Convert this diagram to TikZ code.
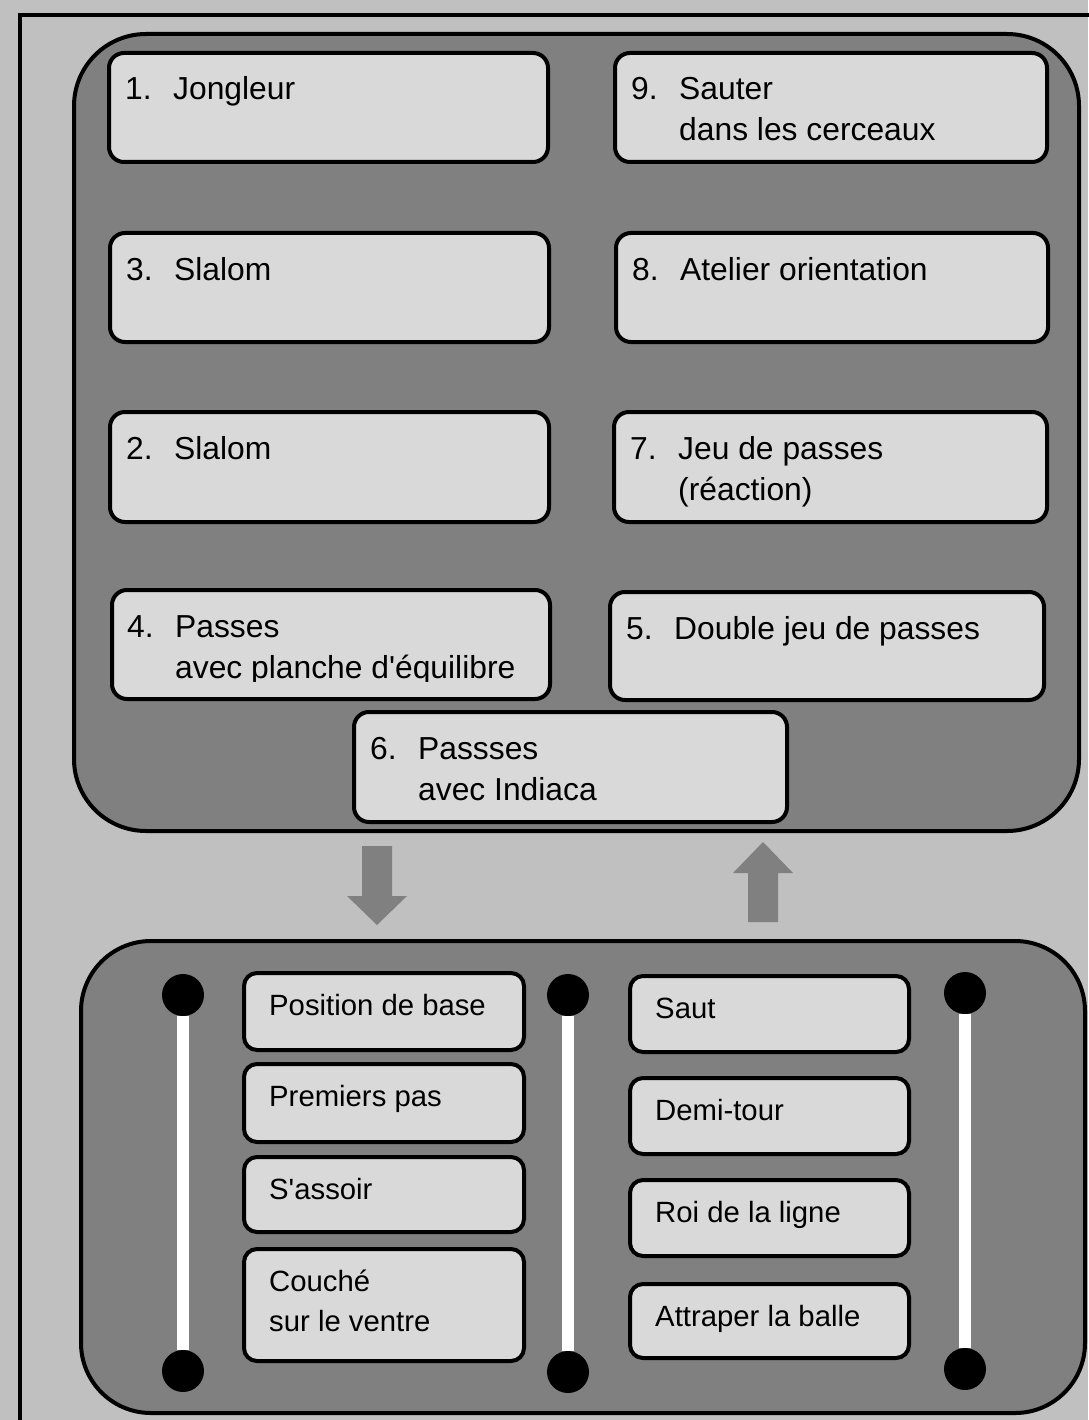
\documentclass[tikz,border=0pt]{standalone}
\usepackage{fontspec}
\setmainfont{Liberation Sans}
\usetikzlibrary{positioning}

\definecolor{paper}{HTML}{C0C0C0}
\definecolor{panelgray}{HTML}{808080}
\definecolor{cardgray}{HTML}{D9D9D9}

\newcommand{\cardtext}[3]{\begin{tabular}[t]{@{}p{48pt}@{}l@{}}#1 & #2\\ & #3\end{tabular}}
\newcommand{\movetext}[2]{\begin{tabular}[t]{@{}l@{}}#1\\#2\end{tabular}}

\begin{document}
\begin{tikzpicture}[
        x=1pt, y=-1pt,
        panel/.style={draw=black, line width=4pt, fill=panelgray, rounded corners=72pt, anchor=north west, inner sep=0pt},
        card/.style={draw=black, line width=4pt, fill=cardgray, rounded corners=15pt, anchor=north west, inner sep=0pt},
        move/.style={card, rounded corners=13pt},
        label text/.style={anchor=base west, inner sep=0pt, font=\fontsize{31.8}{41}\selectfont},
        move text/.style={anchor=base west, inner sep=0pt, font=\fontsize{29.3}{40}\selectfont},
        dot/.style={circle, fill=black, minimum size=42pt, inner sep=0pt},
        rail/.style={draw=white, line width=12pt},
        bigarrow/.style={fill=panelgray},
    ]

        % Background and frame
        \fill[paper] (0,0) rectangle (1088,1420);
        \useasboundingbox (0,0) rectangle (1088,1420);
        \draw[line width=3.5pt] (20,1430) |- (1098,15);

        % Draw the two panels
        \node[panel, minimum width=1005pt, minimum height=797pt] (stations) at (72,32) {};
        \node[panel, rounded corners=70pt, minimum width=1004pt, minimum height=472pt] (basics) at (79,939) {};

        % Draw the stations
        \foreach \n/\x/\y/\w/\h/\one/\two in {
                1/107/51/439/109/Jongleur/{},
                9/613/51/432/109/Sauter/dans les cerceaux,
                3/108/231/439/109/Slalom/{},
                8/614/231/432/109/Atelier orientation/{},
                2/108/410/439/110/Slalom/{},
                7/612/410/433/110/Jeu de passes/(réaction),
                5/608/590/434/108/Double jeu de passes/{},
                6/352/710/433/110/Passses/avec Indiaca} {
            \node[card, minimum width=\w pt, minimum height=\h pt] (st-\n) at (\x,\y) {};
            \node[label text] (tx-\n) at ([shift={(18,49)}]st-\n.north west) {\cardtext{\n.}{\one}{\two}};
        }

        \node[card, minimum width=438pt, minimum height=109pt] (st-4) at (110,588) {};
        \begin{scope}
            \clip (110,588) rectangle (548,681);
            \node[label text] (tx-4) at ([shift={(17,49)}]st-4.north west) {\cardtext{4.}{Passes}{avec planche d\textquotesingle équilibre}};
        \end{scope}

        % Arrows between the panels
        \fill[bigarrow] (362,846) -- (392,846) -- (392,896) -- (407,896) -- (377,925) -- (347,896) -- (362,896) -- cycle;
        \fill[bigarrow] (748,922) -- (778,922) -- (778,873) -- (793,873) -- (763,842) -- (733,873) -- (748,873) -- cycle;

        % Draw the rails
        \foreach \i/\x/\ytop/\ybot in {1/183/995/1371, 2/568/995/1372, 3/965/993/1369} {
            \node[dot] (top-\i) at (\x,\ytop) {};
            \node[dot] (bot-\i) at (\x,\ybot) {};
            \draw[rail] (top-\i) -- (bot-\i);
        }

        % Draw the basic moves
        \foreach \n/\x/\y/\w/\h/\one/\two in {
                l1/242/971/280/77/Position de base/{},
                l2/242/1062/280/78/Premiers pas/{},
                l3/242/1155/280/75/S\textquotesingle assoir/{},
                l4/242/1247/280/112/Couché/sur le ventre,
                r1/628/974/279/76/Saut/{},
                r2/628/1076/279/76/Demi-tour/{},
                r3/628/1178/279/76/Roi de la ligne/{},
                r4/628/1282/279/74/Attraper la balle/{}} {
            \node[move, minimum width=\w pt, minimum height=\h pt] (mv-\n) at (\x,\y) {};
            \node[move text] (mt-\n) at ([shift={(27,44)}]mv-\n.north west) {\movetext{\one}{\two}};
        }
    \end{tikzpicture}
\end{document}
